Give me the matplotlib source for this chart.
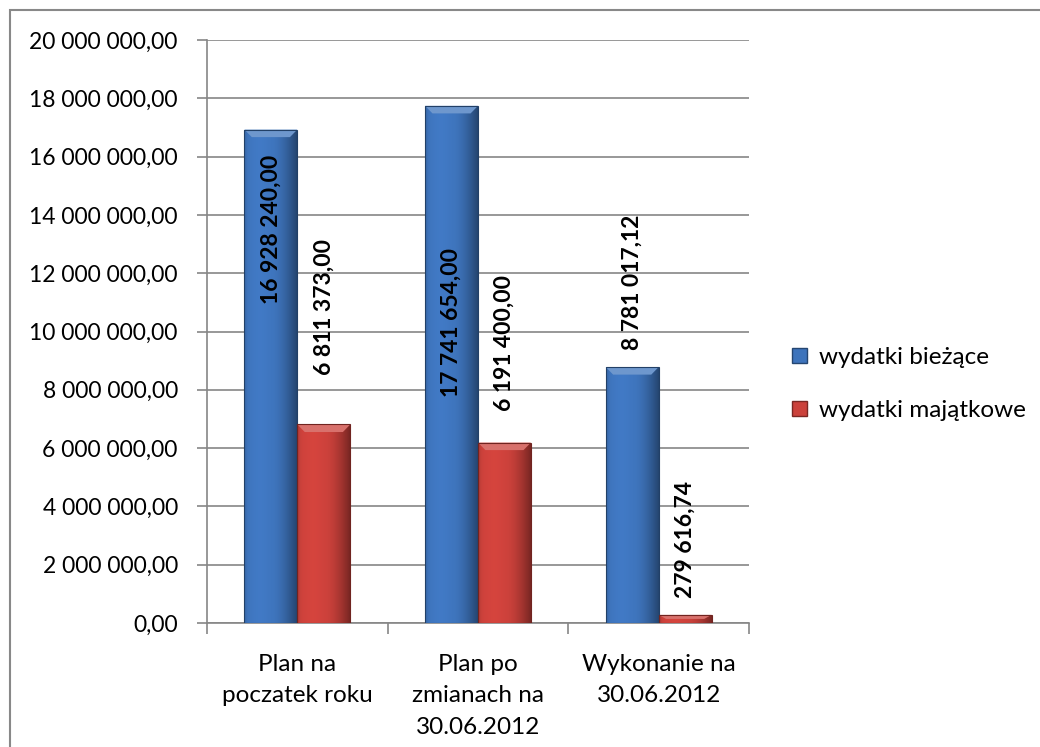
import matplotlib.pyplot as plt
import matplotlib.colors as mcolors
import numpy as np
from matplotlib.patches import Rectangle, Polygon
from matplotlib.ticker import FuncFormatter, MultipleLocator

categories = ["Plan na\npoczatek roku", "Plan po\nzmianach na\n30.06.2012", "Wykonanie na\n30.06.2012"]
series_names = ["wydatki bieżące", "wydatki majątkowe"]
biezace = [16928240.00, 17741654.00, 8781017.12]
majatkowe = [6811373.00, 6191400.00, 279616.74]

# label offsets (px) of the text's lower end relative to bar top
offsets_biezace = [-174, -291, 17]
offsets_majatkowe = [49, 32, 17]

plt.rcParams["font.family"] = ["Lato", "DejaVu Sans"]

def pl_fmt(v, pos=None):
    s = f"{v:,.2f}"
    return s.replace(",", " ").replace(".", ",")

def shade_bar(ax, x0, w, h, base):
    rgb = np.array(mcolors.to_rgb(base))
    nx, ny = 60, 4
    t = np.linspace(0, 1, nx)
    # horizontal shading: light mid-left, dark right edge
    prof = 1.0 - 0.10 * np.exp(-(t / 0.05) ** 2) - 0.40 * np.clip((t - 0.55) / 0.45, 0, 1) ** 1.6
    prof = prof + 0.05 * np.exp(-((t - 0.3) / 0.2) ** 2)
    img = np.clip(rgb[None, None, :] * prof[None, :, None] * np.ones((ny, 1, 1)), 0, 1)
    rect = Rectangle((x0, 0), w, h, facecolor="none", edgecolor="none")
    ax.add_patch(rect)
    im = ax.imshow(img, extent=(x0, x0 + w, 0, h), aspect="auto", zorder=3, interpolation="bilinear")
    im.set_clip_path(rect)
    # small bevel on the top edge
    bev = min(0.26e6, h * 0.5)
    bx = w * 0.14
    light = tuple(np.clip(rgb * 0.75 + 0.25, 0, 1))
    ax.add_patch(Polygon([(x0, h), (x0 + w, h), (x0 + w - bx, h - bev), (x0 + bx, h - bev)],
                         closed=True, facecolor=light, edgecolor="none", zorder=4))
    ax.add_patch(Rectangle((x0, 0), w, h, facecolor="none", edgecolor=tuple(rgb * 0.55), lw=0.8, zorder=5))

fig = plt.figure(figsize=(10.4, 7.47), dpi=100)
ax = fig.add_axes([207 / 1040, 1 - 623 / 747, 542 / 1040, 583 / 747])

# outer frame of the chart
fig.patches.append(Rectangle((10 / 1040, -0.1), 1.2, 1 - 10 / 747 + 0.1, transform=fig.transFigure,
                             facecolor="none", edgecolor="#888888", lw=1.5))

x = np.arange(len(categories))
bw = 0.293
colors = ["#3E74BC", "#CB413B"]
for vals, offs, dx, col in [(biezace, offsets_biezace, -bw / 2, colors[0]),
                            (majatkowe, offsets_majatkowe, bw / 2, colors[1])]:
    for xi, v, off in zip(x, vals, offs):
        shade_bar(ax, xi + dx - bw / 2, bw, v, col)
        ax.annotate(pl_fmt(v), xy=(xi + dx, v), xytext=(0, off * 0.72), textcoords="offset points",
                    rotation=90, ha="center", va="bottom", fontsize=16.5, fontweight="bold",
                    color="black", zorder=6)

ax.set_xlim(-0.5, len(categories) - 0.5)
ax.set_ylim(0, 20e6)
ax.yaxis.set_major_locator(MultipleLocator(2e6))
ax.yaxis.set_major_formatter(FuncFormatter(pl_fmt))
ax.grid(axis="y", color="#868686", lw=1.2, zorder=0)
ax.set_axisbelow(True)

ax.set_xticks(x)
ax.set_xticklabels(categories, fontsize=17.5, linespacing=1.62)
ax.tick_params(axis="x", length=0, pad=22)
ax.set_xticks(np.arange(len(categories) + 1) - 0.5, minor=True)
ax.tick_params(axis="x", which="minor", length=8, width=1.2, color="#868686")
ax.tick_params(axis="y", length=7, width=1.2, color="#868686", labelsize=16.5, pad=14)

for side in ["top", "right"]:
    ax.spines[side].set_visible(False)
for side in ["left", "bottom"]:
    ax.spines[side].set_color("#868686")
    ax.spines[side].set_linewidth(1.2)

handles = [Rectangle((0, 0), 1, 1, facecolor=c, edgecolor=tuple(np.array(mcolors.to_rgb(c)) * 0.6))
           for c in colors]
fig.legend(handles, series_names, loc="center left", bbox_to_anchor=(792 / 1040, 1 - 384 / 747),
           frameon=False, fontsize=17.5, handlelength=0.6, handleheight=0.6, handletextpad=0.5,
           labelspacing=1.3, borderpad=0, borderaxespad=0)

fig.savefig("out.png", dpi=100)
